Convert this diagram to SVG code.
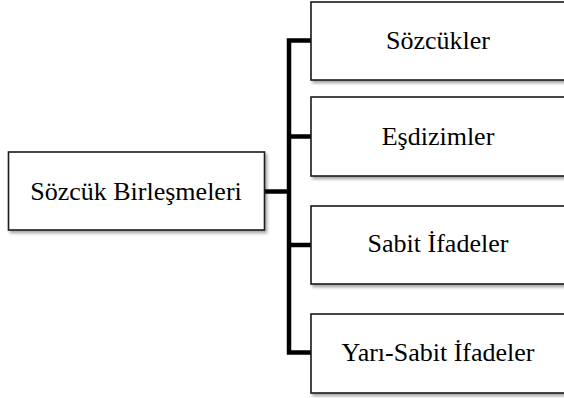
<svg xmlns="http://www.w3.org/2000/svg" width="564" height="398" viewBox="0 0 564 398">
  <defs>
    <filter id="sh" x="-5%" y="-10%" width="115%" height="130%">
      <feDropShadow dx="2" dy="2.5" stdDeviation="1.5" flood-color="#000" flood-opacity="0.35"/>
    </filter>
  </defs>
  <style>
    .box { fill: #fff; stroke: #1a1a1a; stroke-width: 1.6; filter: url(#sh); }
    .lbl { font-family: "Liberation Serif", "Times New Roman", serif; font-size: 26px; fill: #000; text-anchor: middle; }
    .con { fill: none; stroke: #000; stroke-width: 4.5; stroke-linejoin: miter; stroke-linecap: butt; }
  </style>
  <rect width="564" height="398" fill="#fff"/>
  <g id="connectors">
    <path class="con" d="M311 40.5 H289 V352.5 H311"/>
    <path class="con" d="M289 136.5 H311"/>
    <path class="con" d="M289 245 H311"/>
    <path class="con" d="M264 191.5 H289"/>
  </g>
  <g id="root">
    <rect class="box" x="8.5" y="152" width="256" height="78"/>
    <text class="lbl" x="136" y="200">Sözcük Birleşmeleri</text>
  </g>
  <g id="sozcukler">
    <rect class="box" x="311" y="2" width="262" height="78"/>
    <text class="lbl" x="438" y="49">Sözcükler</text>
  </g>
  <g id="esdizimler">
    <rect class="box" x="311" y="97" width="262" height="79"/>
    <text class="lbl" x="438" y="145">Eşdizimler</text>
  </g>
  <g id="sabit">
    <rect class="box" x="311" y="206" width="262" height="78"/>
    <text class="lbl" x="438" y="252">Sabit İfadeler</text>
  </g>
  <g id="yarisabit">
    <rect class="box" x="311" y="314" width="262" height="79"/>
    <text class="lbl" x="438" y="361">Yarı-Sabit İfadeler</text>
  </g>
</svg>
